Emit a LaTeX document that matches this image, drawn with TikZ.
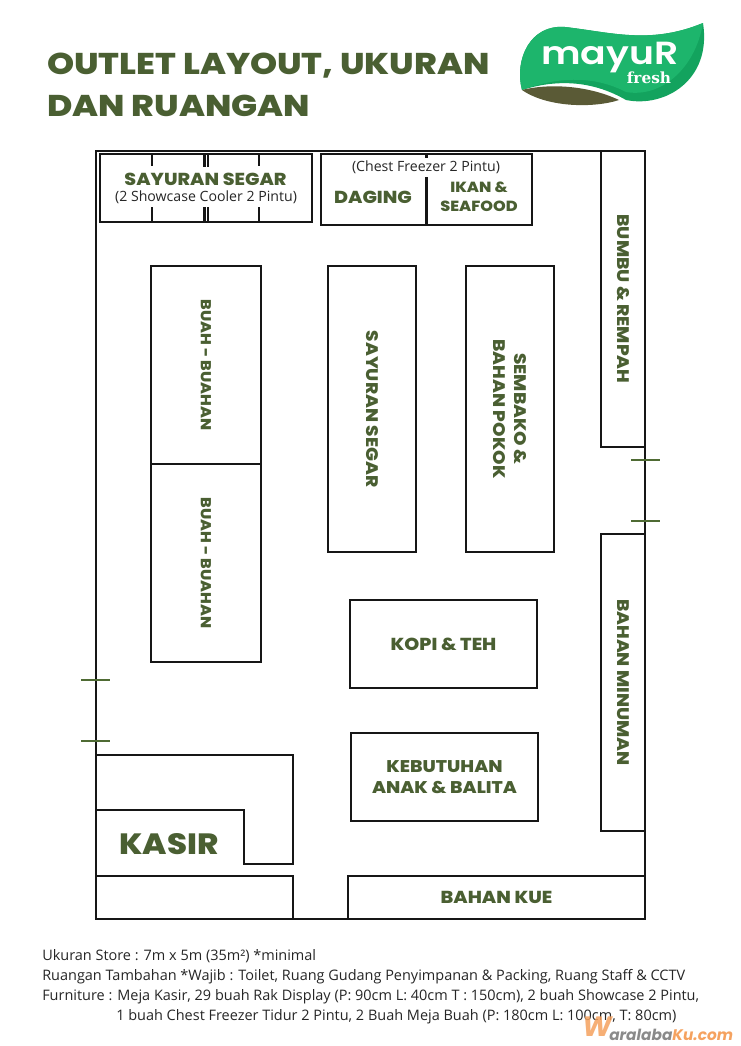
\documentclass[tikz,border=0pt]{standalone}
\usepackage{fontspec}
\setmainfont{Open Sans}
\newfontfamily\headf{Poppins}[UprightFont=* ExtraBold,BoldFont=* ExtraBold,FakeStretch=1.1]
\newfontfamily\titlef{Poppins}[UprightFont=* ExtraBold,BoldFont=* ExtraBold,FakeStretch=1.15]
\newfontfamily\logof{Poppins}[UprightFont=* SemiBold,FakeStretch=1.18]
\newfontfamily\logos{DejaVu Serif}[UprightFont=* Bold]
\newfontfamily\wmf{Poppins}[UprightFont=* Bold Italic]
\definecolor{leaf}{HTML}{4A5F32}
\definecolor{tick}{HTML}{4F6B34}
\definecolor{wall}{HTML}{161616}
\definecolor{logog}{HTML}{1DB56C}
\definecolor{logod}{HTML}{13A35E}
\definecolor{soil}{HTML}{5A5A36}
\definecolor{wmorange}{HTML}{F5A25F}
\definecolor{wmgray}{HTML}{8A8A8A}
\tikzset{x=0.75pt,y=-0.75pt,
  wallbox/.style={draw=wall,line width=1.7pt,fill=white,inner sep=0pt,outer sep=0pt},
  wallline/.style={draw=wall,line width=1.7pt},
  doortick/.style={draw=tick,line width=2.1pt},
  lab/.style={text=leaf,font=\headf\fontsize{13}{15.5}\selectfont,align=center,inner sep=0pt},
  vlab/.style={lab,rotate=-90,font=\headf\fontsize{12.55}{15.5}\selectfont},
  vsmall/.style={lab,rotate=-90,font=\headf\fontsize{10.8}{14}\selectfont},
  note/.style={text=black!85,font=\fontsize{10.6}{12}\selectfont,inner sep=0pt},
  body/.style={text=black!85,font=\fontsize{10.85}{12}\selectfont,anchor=base west,inner sep=0pt},
}
\newcommand{\boxat}[5]{\node[wallbox,anchor=north west,minimum width=#3*0.75pt,minimum height=#4*0.75pt] (#5) at (#1,#2) {};}
\begin{document}
\begin{tikzpicture}
\useasboundingbox (0,0) rectangle (740,1046);
\fill[white] (0,0) rectangle (740,1046);
% title
\node[anchor=base west,text=leaf,inner sep=0pt,font=\titlef\fontsize{22.5}{26}\selectfont] (t1) at (47,74) {OUTLET LAYOUT, UKURAN};
\node[anchor=base west,text=leaf,inner sep=0pt,font=\titlef\fontsize{22.5}{26}\selectfont] (t2) at (47,116) {DAN RUANGAN};
% logo
\fill[logod] (522,90) .. controls (560,78) and (595,82) .. (626,100) .. controls (665,108) and (712,80) .. (703,23) .. controls (650,45) and (610,32) .. (565,27) .. controls (530,24) and (514,60) .. (522,90) -- cycle;
\fill[logog] (522,90) .. controls (560,76) and (595,76) .. (626,92) .. controls (660,98) and (695,70) .. (703,23) .. controls (650,45) and (610,32) .. (565,27) .. controls (530,24) and (514,60) .. (522,90) -- cycle;
\fill[soil] (522,90) .. controls (545,84) and (585,84) .. (619,100) .. controls (595,108) and (548,108) .. (522,90) -- cycle;
\node[text=white,inner sep=0pt,font=\logof\fontsize{24}{26}\selectfont] (lg1) at (610,58) {mayuR};
\node[text=white,inner sep=0pt,font=\logos\fontsize{11.5}{13}\selectfont] (lg2) at (649,78) {fresh};
% outer walls
\node[wallbox,fill=none,anchor=north west,minimum width=549*0.75pt,minimum height=768*0.75pt] (outer) at (96,151) {};
% coolers
\boxat{100}{154}{212}{68}{c1}
\coordinate (t1a) at (152,154); \coordinate (t1b) at (152,166); \coordinate (t1c) at (152,222); \coordinate (t1d) at (152,207);
\coordinate (t2a) at (259,154); \coordinate (t2b) at (259,166); \coordinate (t2c) at (259,222); \coordinate (t2d) at (259,207);
\coordinate (t3a) at (204.4,154); \coordinate (t3b) at (204.4,167); \coordinate (t3c) at (204.4,222); \coordinate (t3d) at (204.4,207);
\coordinate (t4a) at (208.2,154); \coordinate (t4b) at (208.2,167); \coordinate (t4c) at (208.2,222); \coordinate (t4d) at (208.2,207);
\draw[wallline] (t1a)--(t1b) (t1c)--(t1d) (t2a)--(t2b) (t2c)--(t2d) (t3a)--(t3b) (t3c)--(t3d) (t4a)--(t4b) (t4c)--(t4d);
\node[lab] (ss1) at (205.5,179) {SAYURAN SEGAR};
\node[note] (ss2) at (206,197) {(2 Showcase Cooler 2 Pintu)};
% freezer
\boxat{321}{154}{211}{71}{fz}
\coordinate (fza) at (426.5,177); \coordinate (fzb) at (426.5,225);
\coordinate (fzc) at (426.5,154); \coordinate (fzd) at (426.5,158);
\draw[wallline] (fza)--(fzb) (fzc)--(fzd);
\node[note] (fz0) at (426,167.5) {(Chest Freezer 2 Pintu)};
\node[lab] (dg) at (373,197) {DAGING};
\node[lab,font=\headf\fontsize{11}{14}\selectfont] (ik) at (479,197) {IKAN \&\\SEAFOOD};
% racks
\boxat{151}{266}{110}{198}{b1}
\boxat{151}{464}{110}{198}{b2}
\boxat{328}{266}{88}{286}{sg}
\boxat{466}{266}{88}{286}{sb}
\boxat{601}{151}{44}{296}{bb}
\boxat{601}{534}{44}{297}{bm}
\boxat{350}{600}{187}{88}{kp}
\boxat{351}{733}{187}{88}{kb}
\boxat{348}{876}{297}{43}{bk}
\node[vsmall] at (b1.center) {BUAH - BUAHAN};
\node[vsmall] at (b2.center) {BUAH - BUAHAN};
\node[vlab] at (sg.center) {SAYURAN SEGAR};
\node[vlab] at (sb.center) {SEMBAKO \&\\BAHAN POKOK};
\node[vlab] at (bb.center) {BUMBU \& REMPAH};
\node[vlab] at (bm.center) {BAHAN MINUMAN};
\node[lab] at (kp.center) {KOPI \& TEH};
\node[lab,font=\headf\fontsize{12.7}{15.5}\selectfont] at (kb.center) {KEBUTUHAN\\ANAK \& BALITA};
\node[lab] at (bk.center) {BAHAN KUE};
% door ticks
\coordinate (dr1a) at (631,460); \coordinate (dr1b) at (660,460);
\coordinate (dr2a) at (631,521); \coordinate (dr2b) at (660,521);
\coordinate (dl1a) at (81,680);  \coordinate (dl1b) at (110,680);
\coordinate (dl2a) at (81,741);  \coordinate (dl2b) at (110,741);
\draw[doortick] (dr1a)--(dr1b); \draw[doortick] (dr2a)--(dr2b);
\draw[doortick] (dl1a)--(dl1b); \draw[doortick] (dl2a)--(dl2b);
% kasir
\coordinate (k1) at (96,755); \coordinate (k2) at (293,755); \coordinate (k3) at (293,864);
\coordinate (k4) at (244,864); \coordinate (k5) at (244,810); \coordinate (k6) at (96,810);
\draw[wallline] (k1)--(k2)--(k3)--(k4)--(k5)--(k6);
\coordinate (m1) at (96,876); \coordinate (m2) at (293,876); \coordinate (m3) at (293,919);
\draw[wallline] (m1)--(m2)--(m3);
\node[lab,font=\headf\fontsize{22}{26}\selectfont] (kasir) at (169,844) {KASIR};
% footer
\node[body] (f1) at (42,960) {Ukuran Store : 7m x 5m (35m²) *minimal};
\node[body] (f2) at (42,980) {Ruangan Tambahan *Wajib : Toilet, Ruang Gudang Penyimpanan \& Packing, Ruang Staff \& CCTV};
\node[body] (f3) at (42,1000) {Furniture : Meja Kasir, 29 buah Rak Display (P: 90cm L: 40cm T : 150cm), 2 buah Showcase 2 Pintu,};
\node[body] (f4) at (116,1020) {1 buah Chest Freezer Tidur 2 Pintu, 2 Buah Meja Buah (P: 180cm L: 100cm, T: 80cm)};
% watermark
\node[anchor=base west,inner sep=0pt,text=wmorange,opacity=0.85,font=\wmf\fontsize{21}{24}\selectfont] (wm0) at (582,1036) {W};
\node[anchor=base west,inner sep=0pt,font=\wmf\fontsize{11.5}{13}\selectfont] (wm1) at (609,1040) {\textcolor{wmgray}{aralaba}\textcolor{wmorange}{Ku.com}};
\end{tikzpicture}
\end{document}
